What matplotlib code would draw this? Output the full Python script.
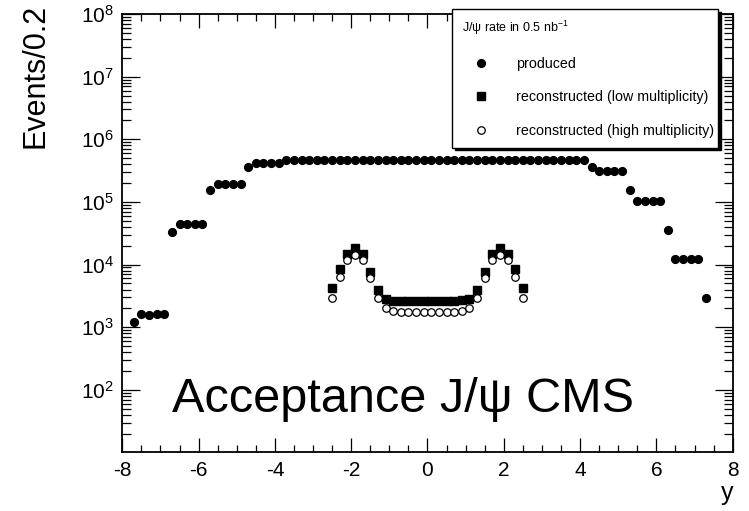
import numpy as np
import matplotlib
matplotlib.use("Agg")
import matplotlib.pyplot as plt
from matplotlib.ticker import FixedLocator, LogLocator, MultipleLocator, NullFormatter

plt.rcParams['font.family'] = ['Liberation Sans', 'DejaVu Sans']
plt.rcParams['mathtext.fontset'] = 'custom'
plt.rcParams['mathtext.rm'] = 'Liberation Sans'
plt.rcParams['mathtext.it'] = 'Liberation Sans'
plt.rcParams['axes.unicode_minus'] = False

# bin centres (bin width 0.2)
prod_y = [-7.7, -7.5, -7.3, -7.1, -6.9, -6.7, -6.5, -6.3, -6.1, -5.9,
          -5.7, -5.5, -5.3, -5.1, -4.9, -4.7, -4.5, -4.3, -4.1, -3.9,
          -3.7, -3.5, -3.3, -3.1, -2.9, -2.7, -2.5, -2.3, -2.1, -1.9,
          -1.7, -1.5, -1.3, -1.1, -0.9, -0.7, -0.5, -0.3, -0.1, 0.1,
          0.3, 0.5, 0.7, 0.9, 1.1, 1.3, 1.5, 1.7, 1.9, 2.1,
          2.3, 2.5, 2.7, 2.9, 3.1, 3.3, 3.5, 3.7, 3.9, 4.1,
          4.3, 4.5, 4.7, 4.9, 5.1, 5.3, 5.5, 5.7, 5.9, 6.1,
          6.3, 6.5, 6.7, 6.9, 7.1, 7.3]
produced = [1.2e3, 1.6e3, 1.58e3, 1.6e3, 1.62e3,
            3.3e4, 4.5e4, 4.5e4, 4.5e4, 4.5e4,
            1.57e5, 1.95e5, 1.95e5, 1.95e5, 1.95e5,
            3.65e5, 4.2e5, 4.2e5, 4.2e5, 4.2e5,
            4.7e5, 4.7e5, 4.7e5, 4.7e5, 4.7e5, 4.7e5, 4.7e5, 4.7e5, 4.7e5, 4.7e5,
            4.7e5, 4.7e5, 4.7e5, 4.7e5, 4.7e5, 4.7e5, 4.7e5, 4.7e5, 4.7e5, 4.7e5,
            4.7e5, 4.7e5, 4.7e5, 4.7e5, 4.7e5, 4.7e5, 4.7e5, 4.7e5, 4.7e5, 4.7e5,
            4.7e5, 4.7e5, 4.7e5, 4.7e5, 4.7e5, 4.7e5, 4.7e5, 4.7e5, 4.7e5, 4.7e5,
            3.6e5, 3.1e5, 3.1e5, 3.1e5, 3.1e5,
            1.57e5, 1.05e5, 1.05e5, 1.05e5, 1.05e5,
            3.55e4, 1.22e4, 1.22e4, 1.22e4, 1.22e4,
            2.95e3]

reco_y = [-2.5, -2.3, -2.1, -1.9, -1.7, -1.5, -1.3, -1.1, -0.9, -0.7, -0.5, -0.3, -0.1,
          0.1, 0.3, 0.5, 0.7, 0.9, 1.1, 1.3, 1.5, 1.7, 1.9, 2.1, 2.3, 2.5]
reco_low = [4.2e3, 8.6e3, 1.46e4, 1.87e4, 1.46e4, 7.7e3, 3.9e3, 2.8e3, 2.65e3, 2.6e3, 2.6e3, 2.6e3, 2.6e3,
            2.6e3, 2.6e3, 2.6e3, 2.6e3, 2.7e3, 2.8e3, 3.9e3, 7.7e3, 1.46e4, 1.87e4, 1.46e4, 8.6e3, 4.2e3]
reco_high = [2.95e3, 6.3e3, 1.17e4, 1.43e4, 1.17e4, 6.0e3, 2.95e3, 2.0e3, 1.8e3, 1.72e3, 1.72e3, 1.72e3, 1.72e3,
             1.72e3, 1.72e3, 1.72e3, 1.72e3, 1.8e3, 2.05e3, 2.95e3, 6.0e3, 1.17e4, 1.43e4, 1.17e4, 6.3e3, 2.95e3]

y_major = [1e2, 1e3, 1e4, 1e5, 1e6, 1e7, 1e8]

fig = plt.figure(figsize=(7.49, 5.11), dpi=100)
ax = fig.add_axes([0.1633, 0.116, 0.8149, 0.8566])

ax.plot(prod_y, produced, 'o', color='k', ms=5.6, mec='k', label='produced', zorder=3)
ax.plot(reco_y, reco_low, 's', color='k', ms=5.2, mec='k', label='reconstructed (low multiplicity)', zorder=3)
ax.plot(reco_y, reco_high, 'o', mfc='white', mec='k', mew=0.9, ms=5.4,
        label='reconstructed (high multiplicity)', zorder=4)

ax.set_yscale('log')
ax.set_xlim(-8, 8)
ax.set_ylim(10.3, 1e8)
ax.xaxis.set_major_locator(MultipleLocator(2))
ax.xaxis.set_minor_locator(MultipleLocator(0.5))
ax.yaxis.set_major_locator(FixedLocator(y_major))
ax.yaxis.set_minor_locator(LogLocator(base=10, subs=np.arange(2, 10), numticks=20))
ax.yaxis.set_minor_formatter(NullFormatter())

for s in ax.spines.values():
    s.set_linewidth(1.3)
ax.tick_params(which='both', direction='in', top=True, right=True, width=0.9)
ax.tick_params(axis='x', which='major', length=10, labelsize=15, pad=7)
ax.tick_params(axis='x', which='minor', length=5)
ax.tick_params(axis='y', which='major', length=13, labelsize=15, pad=6)
ax.tick_params(axis='y', which='minor', length=6.5)

fig.text(0.048, 0.992, 'Events/0.2', rotation=90, ha='center', va='top', fontsize=22)
fig.text(0.979, 0.012, 'y', ha='right', va='bottom', fontsize=18)
ax.text(0.0814, 0.0907, 'Acceptance J/\u03c8 CMS', transform=ax.transAxes,
        ha='left', va='baseline', fontsize=35)

leg = ax.legend(loc='upper left', bbox_to_anchor=(0.6035, 0.7123, 0.3551, 0.2701),
                bbox_transform=fig.transFigure, mode='expand',
                title='J/\u03c8 rate in 0.5 nb$^{-1}$', title_fontsize=9, alignment='left',
                fontsize=10.3, frameon=True, fancybox=False, framealpha=1, edgecolor='k',
                borderpad=0.7, labelspacing=1.36, handlelength=2.6, handletextpad=1.2,
                borderaxespad=0, numpoints=1,
                shadow={'facecolor': 'k', 'edgecolor': 'k', 'alpha': 1})
leg.get_frame().set_linewidth(1.0)
leg.set_zorder(10)

fig.savefig('out.png', dpi=100)
